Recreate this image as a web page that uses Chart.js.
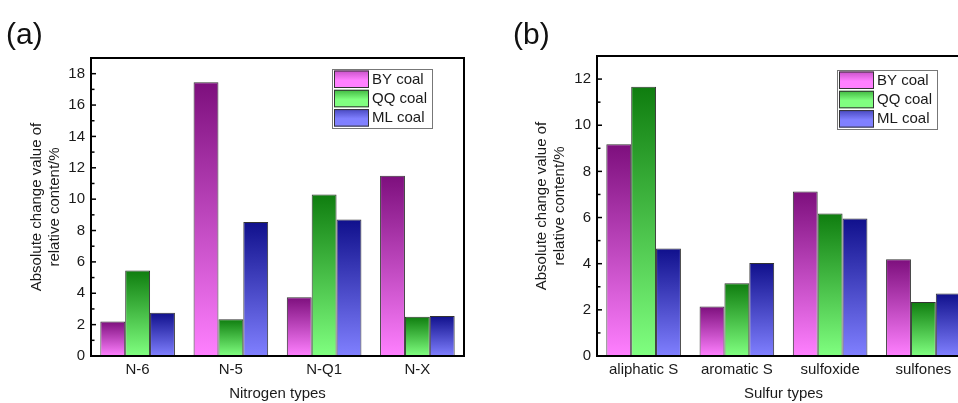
<!DOCTYPE html>
<html>
<head>
<meta charset="utf-8">
<script src="https://cdn.jsdelivr.net/npm/chart.js@4.4.1/dist/chart.umd.min.js"></script>
<style>
  html, body { margin: 0; padding: 0; background: #fff; width: 958px; height: 403px; overflow: hidden; }
  #wrap { position: relative; width: 958px; height: 403px; overflow: hidden; }
  canvas { position: absolute; top: 0; }
  .panel { position: absolute; font-family: "Liberation Sans", Arial, sans-serif; font-size: 30px; line-height: 30px; color: #111; }
</style>
</head>
<body>
<div id="wrap">
  <canvas id="nitrogen" width="480" height="403" style="left:0"></canvas>
  <canvas id="sulfur" width="500" height="403" style="left:480px"></canvas>
  <div class="panel" style="left:6px;top:19px">(a)</div>
  <div class="panel" style="left:513px;top:19px">(b)</div>
</div>
<script>
//Data//
const coalNames = ["BY coal", "QQ coal", "ML coal"];

const nitrogenTypes = ["N-6", "N-5", "N-Q1", "N-X"];
const nitrogenBY = [2.2, 17.45, 3.75, 11.5];
const nitrogenQQ = [5.45, 2.35, 10.3, 2.5];
const nitrogenML = [2.75, 8.55, 8.7, 2.55];

const sulfurTypes = ["aliphatic S", "aromatic S", "sulfoxide", "sulfones"];
const sulfurBY = [9.18, 2.15, 7.13, 4.19];
const sulfurQQ = [11.67, 3.15, 6.18, 2.34];
const sulfurML = [4.66, 4.03, 5.96, 2.71];

const yTitle = ["Absolute change value of", "relative content/%"];
//Akhir Data//

Chart.defaults.font.family = '"Liberation Sans", Arial, sans-serif';
Chart.defaults.color = "#1a1a1a";

// dark top -> light bottom, per bar
const coalColors = [
  { dark: "#7d0f7d", mid: "#c850c8", light: "#ff80ff" },
  { dark: "#0f7d0f", mid: "#40b840", light: "#80ff80" },
  { dark: "#10108c", mid: "#4848c0", light: "#8080ff" },
];

function barGradient(c) {
  return function (context) {
    const chart = context.chart;
    const y = chart.scales.y;
    if (!y || context.type !== "data" || !chart.chartArea) return c.light;
    const top = y.getPixelForValue(context.raw);
    const bottom = y.getPixelForValue(0);
    if (!isFinite(top) || !isFinite(bottom) || top === bottom) return c.light;
    const g = chart.ctx.createLinearGradient(0, top, 0, bottom);
    g.addColorStop(0, c.dark);
    g.addColorStop(1, c.light);
    return g;
  };
}

const framePlugin = {
  id: "frame",
  afterDraw(chart, args, opts) {
    const ctx = chart.ctx;
    const a = chart.chartArea;
    const y = chart.scales.y;
    ctx.save();
    // inward ticks, minor at odd values
    ctx.strokeStyle = "#000";
    ctx.lineWidth = 1.5;
    for (let v = 0; v < y.max; v++) {
      const py = y.getPixelForValue(v);
      const len = v % 2 === 0 ? 5 : 3.5;
      ctx.beginPath();
      ctx.moveTo(a.left, py);
      ctx.lineTo(a.left + len, py);
      ctx.stroke();
    }
    ctx.lineWidth = 2;
    ctx.strokeRect(a.left, a.top, a.right - a.left, a.bottom - a.top);

    // legend
    const lx = opts.legendX, ly = opts.legendY, w = 100, h = 59;
    ctx.fillStyle = "#fff";
    ctx.fillRect(lx, ly, w, h);
    ctx.strokeStyle = "#777";
    ctx.lineWidth = 1;
    ctx.strokeRect(lx + 0.5, ly + 0.5, w, h);
    ctx.font = "15px " + Chart.defaults.font.family;
    ctx.textBaseline = "middle";
    chart.data.datasets.forEach(function (ds, i) {
      const c = coalColors[i];
      const sx = lx + 2, sy = ly + 1.5 + i * 19.3, sw = 35, sh = 17.5;
      const g = ctx.createLinearGradient(0, sy, 0, sy + sh);
      g.addColorStop(0, c.mid);
      g.addColorStop(0.55, c.light);
      g.addColorStop(1, c.light);
      ctx.fillStyle = g;
      ctx.fillRect(sx, sy, sw, sh);
      ctx.strokeStyle = "#333";
      ctx.strokeRect(sx + 0.5, sy + 0.5, sw - 1, sh - 1);
      ctx.fillStyle = "#1a1a1a";
      ctx.fillText(ds.label, lx + 40, sy + sh / 2 + 0.5);
    });
    ctx.restore();
  },
};

function coalChart(id, labels, by, qq, ml, yMax, setup) {
  const values = [by, qq, ml];
  const data = {
    labels: labels,
    datasets: coalNames.map(function (name, i) {
      return {
        label: name,
        data: values[i],
        backgroundColor: barGradient(coalColors[i]),
        borderColor: "#333",
        borderWidth: 1,
        categoryPercentage: 0.8,
        barPercentage: 1.0,
      };
    }),
  };

  const config = {
    type: "bar",
    data: data,
    plugins: [framePlugin],
    options: {
      responsive: false,
      animation: false,
      layout: { padding: setup.padding },
      scales: {
        x: {
          grid: { display: false, drawTicks: false },
          border: { display: false },
          ticks: { padding: 5, font: { size: 15 }, maxRotation: 0, autoSkip: false },
          afterFit: function (s) { s.height = 47; },
          title: {
            display: true,
            text: setup.xTitle,
            font: { size: 15, lineHeight: 1.2 },
            padding: { top: 0, bottom: 0 },
          },
        },
        y: {
          min: 0,
          max: yMax,
          grid: { display: false, drawTicks: false },
          border: { display: false },
          ticks: { stepSize: 2, padding: 6, font: { size: 15 } },
          afterBuildTicks: function (s) {
            const ticks = [];
            for (let v = 0; v <= yMax; v += 2) ticks.push({ value: v });
            s.ticks = ticks;
          },
          afterFit: function (s) { s.width = setup.yWidth; },
          title: {
            display: true,
            text: yTitle,
            font: { size: 15, lineHeight: 1.2 },
            padding: { top: setup.yTitlePad, bottom: 0 },
          },
        },
      },
      plugins: {
        legend: { display: false },
        tooltip: { enabled: false },
        frame: { legendX: setup.legendX, legendY: setup.legendY },
      },
    },
  };
  return new Chart(document.getElementById(id).getContext("2d"), config);
}

coalChart("nitrogen", nitrogenTypes, nitrogenBY, nitrogenQQ, nitrogenML, 19, {
  padding: { left: 0, top: 58, right: 16, bottom: 0 },
  yWidth: 91,
  yTitlePad: 28,
  xTitle: "Nitrogen types",
  legendX: 332,
  legendY: 69,
});

coalChart("sulfur", sulfurTypes, sulfurBY, sulfurQQ, sulfurML, 13, {
  padding: { left: 0, top: 56, right: 10, bottom: 0 },
  yWidth: 117,
  yTitlePad: 53,
  xTitle: "Sulfur types",
  legendX: 357,
  legendY: 70,
});
</script>
</body>
</html>
